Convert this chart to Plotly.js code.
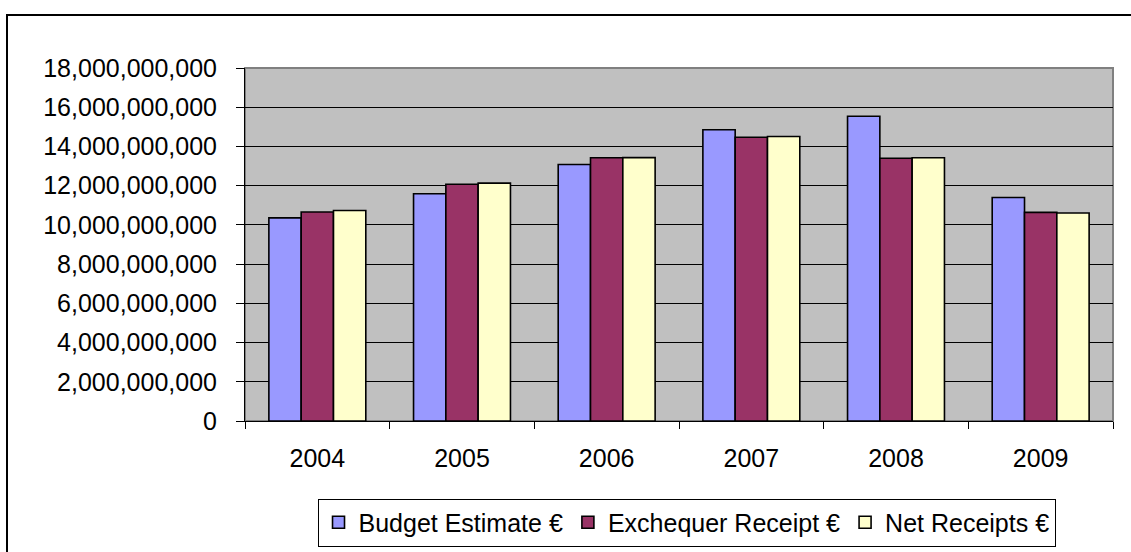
<!DOCTYPE html>
<html>
<head>
<meta charset="utf-8">
<script src="https://cdn.plot.ly/plotly-3.0.1.min.js"></script>
<style>
  html, body { margin: 0; padding: 0; background: #fff; overflow: hidden; }
  #wrap { position: relative; width: 1131px; height: 552px; }
  #chart { position: absolute; left: 0; top: 0; width: 1131px; height: 552px; }
  #frame { position: absolute; left: 6px; top: 14px; width: 1200px; height: 600px;
           border: 2px solid #000; box-sizing: border-box; pointer-events: none; }
</style>
</head>
<body>
<div id="wrap">
  <div id="chart"></div>
  <div id="frame"></div>
</div>
<script>
const years = ['2004', '2005', '2006', '2007', '2008', '2009'];
const budgetEstimate = [10360000000, 11590000000, 13080000000, 14850000000, 15540000000, 11400000000];
const exchequerReceipt = [10660000000, 12070000000, 13420000000, 14470000000, 13400000000, 10640000000];
const netReceipts = [10730000000, 12130000000, 13430000000, 14510000000, 13420000000, 10610000000];
const seriesNames = ['Budget Estimate €', 'Exchequer Receipt €', 'Net Receipts €'];
const yTickVals = [0, 2e9, 4e9, 6e9, 8e9, 10e9, 12e9, 14e9, 16e9, 18e9];
const yTickText = ['0', '2,000,000,000', '4,000,000,000', '6,000,000,000', '8,000,000,000',
  '10,000,000,000', '12,000,000,000', '14,000,000,000', '16,000,000,000', '18,000,000,000'];

const colors = ['#9999FF', '#993366', '#FFFFCC'];
const values = [budgetEstimate, exchequerReceipt, netReceipts];

const traces = values.map((v, i) => ({
  type: 'bar',
  name: seriesNames[i],
  x: years,
  y: v,
  marker: { color: colors[i], line: { color: '#000', width: 1.6 } },
  hoverinfo: 'x+y+name'
}));

const font = { family: 'Liberation Sans, Arial, sans-serif', size: 25, color: '#000' };

const layout = {
  width: 1131, height: 552,
  margin: { l: 245, r: 18, t: 68, b: 131, pad: 0, autoexpand: false },
  paper_bgcolor: 'rgba(0,0,0,0)',
  plot_bgcolor: '#C0C0C0',
  font: font,
  barmode: 'group',
  bargap: 0.33,
  bargroupgap: 0,
  showlegend: true,
  legend: {
    orientation: 'h',
    xref: 'container', yref: 'container',
    x: 0.607, xanchor: 'center',
    y: 0.0534, yanchor: 'middle',
    bgcolor: '#fff',
    bordercolor: '#000',
    borderwidth: 1,
    font: font,
    itemwidth: 30,
    traceorder: 'normal'
  },
  xaxis: {
    type: 'category',
    tickson: 'boundaries',
    ticks: 'outside',
    ticklen: 7,
    tickwidth: 1,
    tickcolor: '#000',
    showline: true,
    linecolor: '#000',
    linewidth: 1,
    showgrid: false,
    tickfont: font,
    ticklabelstandoff: 15,
    fixedrange: true
  },
  yaxis: {
    range: [0, 18e9],
    tickvals: yTickVals,
    ticktext: yTickText,
    ticks: 'outside',
    ticklen: 8,
    tickwidth: 1,
    tickcolor: '#000',
    showline: true,
    linecolor: '#000',
    linewidth: 1,
    showgrid: true,
    gridcolor: '#000',
    gridwidth: 1,
    zeroline: false,
    tickfont: font,
    ticklabelstandoff: 14,
    fixedrange: true
  },
  shapes: [{
    type: 'rect', xref: 'paper', yref: 'paper',
    x0: 0, x1: 1, y0: 0, y1: 1,
    line: { color: '#808080', width: 2 },
    layer: 'below'
  }]
};

Plotly.newPlot('chart', traces, layout, { displayModeBar: false, staticPlot: true });
</script>
</body>
</html>
